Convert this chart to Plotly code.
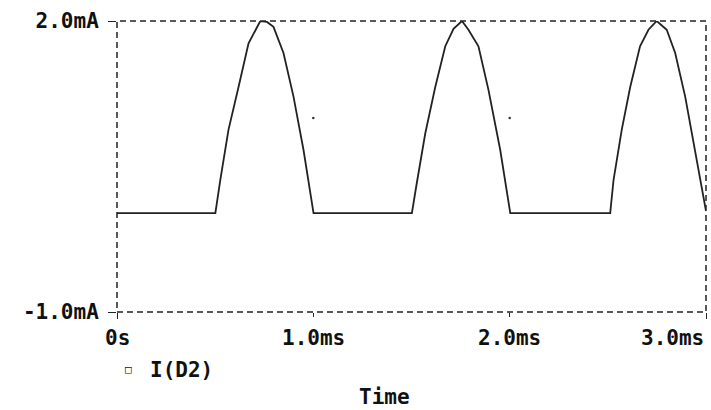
import plotly.graph_objects as go

# Diode D2 current, half-wave rectified, sampled by the simulator
time_ms = [0.0, 0.501, 0.526, 0.568, 0.619, 0.670, 0.730, 0.764, 0.797, 0.848, 0.899, 0.950, 1.001,
           1.502, 1.527, 1.570, 1.621, 1.672, 1.714, 1.757, 1.790, 1.841, 1.892, 1.952, 2.003,
           2.512, 2.529, 2.571, 2.614, 2.664, 2.707, 2.749, 2.800, 2.843, 2.894, 2.945, 3.0]
current_mA = [0.02, 0.02, 0.36, 0.88, 1.32, 1.77, 2.0, 1.99, 1.94, 1.67, 1.22, 0.67, 0.02,
              0.02, 0.33, 0.84, 1.32, 1.74, 1.92, 2.0, 1.91, 1.74, 1.29, 0.67, 0.02,
              0.02, 0.36, 0.88, 1.32, 1.74, 1.91, 2.0, 1.91, 1.67, 1.22, 0.67, 0.04]

# Axis ticks and labels
x_ticks = [0, 1, 2, 3]
x_labels = ["0s", "1.0ms", "2.0ms", "3.0ms"]
y_ticks = [-1, 2]
y_labels = ["-1.0mA", "2.0mA"]

# Grid dots
dot_x = [1, 2]
dot_y = [1, 1]

FONT = "DejaVu Sans Mono"
FSIZE = 21
INK = "#222222"
DASH = "6px,4px"

fig = go.Figure()
fig.add_trace(go.Scatter(x=time_ms, y=current_mA, mode="lines", name="I(D2)",
                         line=dict(color=INK, width=1.8), showlegend=False))
fig.add_trace(go.Scatter(x=dot_x, y=dot_y, mode="markers", showlegend=False,
                         marker=dict(color="#333333", size=2.5)))

fig.update_xaxes(range=[0, 3], tickvals=[x_ticks[0], x_ticks[-1]], showticklabels=False,
                 ticks="outside", ticklen=6, tickcolor=INK, tickwidth=1.3,
                 showgrid=False, zeroline=False, showline=False,
                 minor=dict(tickvals=x_ticks[1:-1], ticks="outside", ticklen=4,
                            tickcolor=INK, showgrid=False))
fig.update_yaxes(range=[-1, 2], tickvals=y_ticks, ticktext=y_labels,
                 ticks="outside", ticklen=8, tickcolor=INK, tickwidth=1.3,
                 ticklabelstandoff=5,
                 tickfont=dict(family=FONT, size=FSIZE, color="#111", weight="bold"),
                 showgrid=False, zeroline=False, showline=False)

# Dashed plot frame
fig.add_shape(type="rect", xref="paper", yref="paper", x0=0, x1=1, y0=0, y1=1,
              line=dict(color=INK, width=1.5, dash=DASH), layer="below")

annotations = []
for i, (v, lab) in enumerate(zip(x_ticks, x_labels)):
    annotations.append(dict(x=v, y=-0.089, xref="x", yref="paper", text=lab,
                            showarrow=False, xanchor="right" if i == len(x_ticks) - 1 else "center",
                            yanchor="middle",
                            font=dict(family=FONT, size=FSIZE, color="#111", weight="bold")))
annotations.append(dict(x=0.4536, y=-0.292, xref="paper", yref="paper", text="Time",
                        showarrow=False, xanchor="center", yanchor="middle",
                        font=dict(family=FONT, size=FSIZE, color="#111", weight="bold")))
annotations.append(dict(x=0.0195, y=-0.199, xref="paper", yref="paper", text="□",
                        showarrow=False, xanchor="center", yanchor="middle",
                        font=dict(family=FONT, size=11, color="#111")))
annotations.append(dict(x=0.053, y=-0.199, xref="paper", yref="paper", text="I(D2)",
                        showarrow=False, xanchor="left", yanchor="middle",
                        font=dict(family=FONT, size=FSIZE, color="#111", weight="bold")))

fig.update_layout(width=711, height=410, margin=dict(l=117, r=5, t=21, b=98),
                  paper_bgcolor="white", plot_bgcolor="white",
                  annotations=annotations, showlegend=False)

fig.write_html("out.html")
